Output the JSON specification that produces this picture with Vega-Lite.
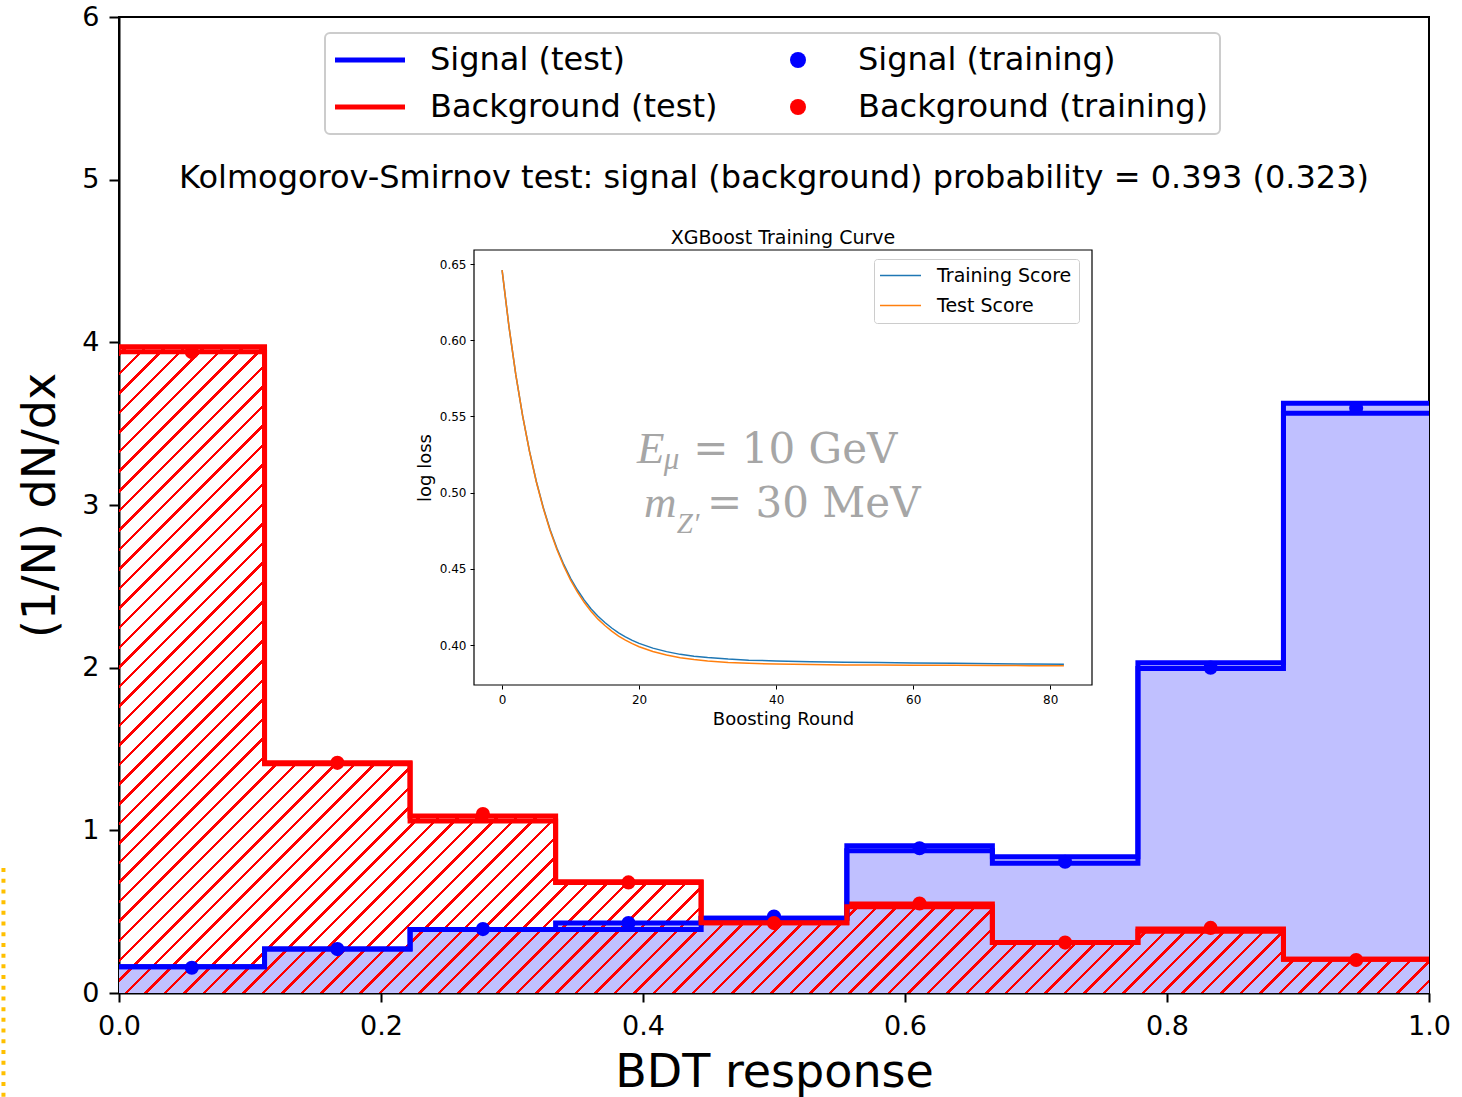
{
"$schema": "https://vega.github.io/schema/vega-lite/v6.json",
"width": 1310, "height": 976,
"autosize": "none",
"padding": {"left": 119, "top": 17, "right": 33, "bottom": 104},
"background": "white",
"config": {
  "font": "DejaVu Sans",
  "view": {"stroke": "black", "strokeWidth": 2},
  "axis": {"grid": false, "labelColor": "black", "titleColor": "black", "domainColor": "black", "tickColor": "black", "titleFontWeight": "normal", "labelFont": "DejaVu Sans", "titleFont": "DejaVu Sans", "labelFlush": false}
},
"datasets": {
  "hist": [
    {"edge": 0, "cls": "S", "leg": "Signal (test)", "fill": 0.162, "step": 0.162},
    {"edge": 0.1111, "cls": "S", "leg": "Signal (test)", "fill": 0.27, "step": 0.27},
    {"edge": 0.2222, "cls": "S", "leg": "Signal (test)", "fill": 0.39, "step": 0.39},
    {"edge": 0.3333, "cls": "S", "leg": "Signal (test)", "fill": 0.43, "step": 0.39},
    {"edge": 0.4444, "cls": "S", "leg": "Signal (test)", "fill": 0.46, "step": 0.46},
    {"edge": 0.5556, "cls": "S", "leg": "Signal (test)", "fill": 0.905, "step": 0.875},
    {"edge": 0.6667, "cls": "S", "leg": "Signal (test)", "fill": 0.838, "step": 0.797},
    {"edge": 0.7778, "cls": "S", "leg": "Signal (test)", "fill": 2.03, "step": 1.995},
    {"edge": 0.8889, "cls": "S", "leg": "Signal (test)", "fill": 3.625, "step": 3.564},
    {"edge": 1, "cls": "S", "leg": "Signal (test)", "fill": 3.625, "step": 3.564},
    {"edge": 0, "cls": "B", "leg": "Background (test)", "fill": 3.973, "step": 3.942},
    {"edge": 0.1111, "cls": "B", "leg": "Background (test)", "fill": 1.415, "step": 1.41},
    {"edge": 0.2222, "cls": "B", "leg": "Background (test)", "fill": 1.088, "step": 1.057},
    {"edge": 0.3333, "cls": "B", "leg": "Background (test)", "fill": 0.684, "step": 0.68},
    {"edge": 0.4444, "cls": "B", "leg": "Background (test)", "fill": 0.432, "step": 0.432},
    {"edge": 0.5556, "cls": "B", "leg": "Background (test)", "fill": 0.547, "step": 0.53},
    {"edge": 0.6667, "cls": "B", "leg": "Background (test)", "fill": 0.31, "step": 0.31},
    {"edge": 0.7778, "cls": "B", "leg": "Background (test)", "fill": 0.393, "step": 0.38},
    {"edge": 0.8889, "cls": "B", "leg": "Background (test)", "fill": 0.207, "step": 0.207},
    {"edge": 1, "cls": "B", "leg": "Background (test)", "fill": 0.207, "step": 0.207}
  ],
  "pts": [
    {"c": 0.0556, "leg": "Signal (training)", "v": 0.155},
    {"c": 0.1667, "leg": "Signal (training)", "v": 0.27},
    {"c": 0.2778, "leg": "Signal (training)", "v": 0.393},
    {"c": 0.3889, "leg": "Signal (training)", "v": 0.43},
    {"c": 0.5, "leg": "Signal (training)", "v": 0.47},
    {"c": 0.6111, "leg": "Signal (training)", "v": 0.89},
    {"c": 0.7222, "leg": "Signal (training)", "v": 0.807},
    {"c": 0.8333, "leg": "Signal (training)", "v": 2.0},
    {"c": 0.9444, "leg": "Signal (training)", "v": 3.596},
    {"c": 0.0556, "leg": "Background (training)", "v": 3.94},
    {"c": 0.1667, "leg": "Background (training)", "v": 1.415},
    {"c": 0.2778, "leg": "Background (training)", "v": 1.1},
    {"c": 0.3889, "leg": "Background (training)", "v": 0.68},
    {"c": 0.5, "leg": "Background (training)", "v": 0.43},
    {"c": 0.6111, "leg": "Background (training)", "v": 0.55},
    {"c": 0.7222, "leg": "Background (training)", "v": 0.31},
    {"c": 0.8333, "leg": "Background (training)", "v": 0.4},
    {"c": 0.9444, "leg": "Background (training)", "v": 0.203}
  ],
  "curve": [
    {"r": 0, "s": 0.646, "set": "Training Score"},
    {"r": 1, "s": 0.6091, "set": "Training Score"},
    {"r": 2, "s": 0.5774, "set": "Training Score"},
    {"r": 3, "s": 0.5504, "set": "Training Score"},
    {"r": 4, "s": 0.5272, "set": "Training Score"},
    {"r": 5, "s": 0.5073, "set": "Training Score"},
    {"r": 6, "s": 0.4904, "set": "Training Score"},
    {"r": 7, "s": 0.4758, "set": "Training Score"},
    {"r": 8, "s": 0.4635, "set": "Training Score"},
    {"r": 9, "s": 0.4529, "set": "Training Score"},
    {"r": 10, "s": 0.4438, "set": "Training Score"},
    {"r": 11, "s": 0.4361, "set": "Training Score"},
    {"r": 12, "s": 0.4295, "set": "Training Score"},
    {"r": 13, "s": 0.4237, "set": "Training Score"},
    {"r": 14, "s": 0.4189, "set": "Training Score"},
    {"r": 15, "s": 0.4148, "set": "Training Score"},
    {"r": 16, "s": 0.4112, "set": "Training Score"},
    {"r": 17, "s": 0.408, "set": "Training Score"},
    {"r": 18, "s": 0.4054, "set": "Training Score"},
    {"r": 19, "s": 0.4031, "set": "Training Score"},
    {"r": 20, "s": 0.4011, "set": "Training Score"},
    {"r": 22, "s": 0.398, "set": "Training Score"},
    {"r": 24, "s": 0.3957, "set": "Training Score"},
    {"r": 26, "s": 0.3939, "set": "Training Score"},
    {"r": 28, "s": 0.3927, "set": "Training Score"},
    {"r": 30, "s": 0.3918, "set": "Training Score"},
    {"r": 33, "s": 0.3908, "set": "Training Score"},
    {"r": 36, "s": 0.3901, "set": "Training Score"},
    {"r": 40, "s": 0.3896, "set": "Training Score"},
    {"r": 45, "s": 0.3891, "set": "Training Score"},
    {"r": 50, "s": 0.3888, "set": "Training Score"},
    {"r": 55, "s": 0.3885, "set": "Training Score"},
    {"r": 60, "s": 0.3883, "set": "Training Score"},
    {"r": 66, "s": 0.388, "set": "Training Score"},
    {"r": 72, "s": 0.3877, "set": "Training Score"},
    {"r": 77, "s": 0.3875, "set": "Training Score"},
    {"r": 82, "s": 0.3874, "set": "Training Score"},
    {"r": 0, "s": 0.646, "set": "Test Score"},
    {"r": 1, "s": 0.6091, "set": "Test Score"},
    {"r": 2, "s": 0.5774, "set": "Test Score"},
    {"r": 3, "s": 0.5503, "set": "Test Score"},
    {"r": 4, "s": 0.527, "set": "Test Score"},
    {"r": 5, "s": 0.507, "set": "Test Score"},
    {"r": 6, "s": 0.4899, "set": "Test Score"},
    {"r": 7, "s": 0.4752, "set": "Test Score"},
    {"r": 8, "s": 0.4627, "set": "Test Score"},
    {"r": 9, "s": 0.4519, "set": "Test Score"},
    {"r": 10, "s": 0.4426, "set": "Test Score"},
    {"r": 11, "s": 0.4347, "set": "Test Score"},
    {"r": 12, "s": 0.4279, "set": "Test Score"},
    {"r": 13, "s": 0.422, "set": "Test Score"},
    {"r": 14, "s": 0.417, "set": "Test Score"},
    {"r": 15, "s": 0.4128, "set": "Test Score"},
    {"r": 16, "s": 0.4091, "set": "Test Score"},
    {"r": 17, "s": 0.4059, "set": "Test Score"},
    {"r": 18, "s": 0.4032, "set": "Test Score"},
    {"r": 19, "s": 0.4009, "set": "Test Score"},
    {"r": 20, "s": 0.3989, "set": "Test Score"},
    {"r": 22, "s": 0.3958, "set": "Test Score"},
    {"r": 24, "s": 0.3935, "set": "Test Score"},
    {"r": 26, "s": 0.3917, "set": "Test Score"},
    {"r": 28, "s": 0.3905, "set": "Test Score"},
    {"r": 30, "s": 0.3896, "set": "Test Score"},
    {"r": 33, "s": 0.3886, "set": "Test Score"},
    {"r": 36, "s": 0.388, "set": "Test Score"},
    {"r": 40, "s": 0.3875, "set": "Test Score"},
    {"r": 45, "s": 0.3872, "set": "Test Score"},
    {"r": 50, "s": 0.387, "set": "Test Score"},
    {"r": 55, "s": 0.3869, "set": "Test Score"},
    {"r": 60, "s": 0.3868, "set": "Test Score"},
    {"r": 66, "s": 0.3867, "set": "Test Score"},
    {"r": 72, "s": 0.3866, "set": "Test Score"},
    {"r": 77, "s": 0.3865, "set": "Test Score"},
    {"r": 82, "s": 0.3865, "set": "Test Score"}
  ]
},
"layer": [
  {
    "layer": [
      {
        "data": {"name": "hist"},
        "transform": [{"filter": "datum.cls == 'S'"}],
        "mark": {"type": "area", "interpolate": "step-after", "color": "#c0c0ff"},
        "encoding": {
          "x": {"field": "edge", "type": "quantitative", "scale": {"domain": [0, 1], "nice": false, "zero": false},
                "axis": {"orient": "bottom", "values": [0, 0.2, 0.4, 0.6, 0.8, 1], "format": ".1f", "labelFontSize": 27, "tickSize": 9, "tickWidth": 2, "domainWidth": 2, "labelPadding": 11, "labelFlush": false, "title": "BDT response", "titleFontSize": 46, "titlePadding": 11}},
          "y": {"field": "fill", "type": "quantitative", "scale": {"domain": [0, 6], "nice": false, "zero": true},
                "axis": {"orient": "left", "values": [0, 1, 2, 3, 4, 5, 6], "format": "d", "labelFontSize": 27, "tickSize": 10, "tickWidth": 2, "domainWidth": 2, "labelPadding": 10, "labelFlush": false, "title": "(1/N) dN/dx", "titleFontSize": 46, "titlePadding": 17}}
        }
      },
      {
        "data": {"name": "hist"},
        "transform": [{"filter": "datum.cls == 'B'"}],
        "mark": {"type": "area", "interpolate": "step-after",
          "color": {"gradient": "linear", "x1": 0, "y1": 0, "x2": 1.201, "y2": 0.5925, "stops": [
{"offset":0.003,"color":"transparent"},{"offset":0.003,"color":"red"},{"offset":0.0048,"color":"red"},{"offset":0.0048,"color":"transparent"},
{"offset":0.013,"color":"transparent"},{"offset":0.013,"color":"red"},{"offset":0.0148,"color":"red"},{"offset":0.0148,"color":"transparent"},
{"offset":0.023,"color":"transparent"},{"offset":0.023,"color":"red"},{"offset":0.0248,"color":"red"},{"offset":0.0248,"color":"transparent"},
{"offset":0.033,"color":"transparent"},{"offset":0.033,"color":"red"},{"offset":0.0348,"color":"red"},{"offset":0.0348,"color":"transparent"},
{"offset":0.043,"color":"transparent"},{"offset":0.043,"color":"red"},{"offset":0.0448,"color":"red"},{"offset":0.0448,"color":"transparent"},
{"offset":0.053,"color":"transparent"},{"offset":0.053,"color":"red"},{"offset":0.0548,"color":"red"},{"offset":0.0548,"color":"transparent"},
{"offset":0.063,"color":"transparent"},{"offset":0.063,"color":"red"},{"offset":0.0648,"color":"red"},{"offset":0.0648,"color":"transparent"},
{"offset":0.073,"color":"transparent"},{"offset":0.073,"color":"red"},{"offset":0.0748,"color":"red"},{"offset":0.0748,"color":"transparent"},
{"offset":0.083,"color":"transparent"},{"offset":0.083,"color":"red"},{"offset":0.0848,"color":"red"},{"offset":0.0848,"color":"transparent"},
{"offset":0.093,"color":"transparent"},{"offset":0.093,"color":"red"},{"offset":0.0948,"color":"red"},{"offset":0.0948,"color":"transparent"},
{"offset":0.103,"color":"transparent"},{"offset":0.103,"color":"red"},{"offset":0.1048,"color":"red"},{"offset":0.1048,"color":"transparent"},
{"offset":0.113,"color":"transparent"},{"offset":0.113,"color":"red"},{"offset":0.1148,"color":"red"},{"offset":0.1148,"color":"transparent"},
{"offset":0.123,"color":"transparent"},{"offset":0.123,"color":"red"},{"offset":0.1248,"color":"red"},{"offset":0.1248,"color":"transparent"},
{"offset":0.133,"color":"transparent"},{"offset":0.133,"color":"red"},{"offset":0.1348,"color":"red"},{"offset":0.1348,"color":"transparent"},
{"offset":0.143,"color":"transparent"},{"offset":0.143,"color":"red"},{"offset":0.1448,"color":"red"},{"offset":0.1448,"color":"transparent"},
{"offset":0.153,"color":"transparent"},{"offset":0.153,"color":"red"},{"offset":0.1548,"color":"red"},{"offset":0.1548,"color":"transparent"},
{"offset":0.163,"color":"transparent"},{"offset":0.163,"color":"red"},{"offset":0.1648,"color":"red"},{"offset":0.1648,"color":"transparent"},
{"offset":0.173,"color":"transparent"},{"offset":0.173,"color":"red"},{"offset":0.1748,"color":"red"},{"offset":0.1748,"color":"transparent"},
{"offset":0.183,"color":"transparent"},{"offset":0.183,"color":"red"},{"offset":0.1848,"color":"red"},{"offset":0.1848,"color":"transparent"},
{"offset":0.193,"color":"transparent"},{"offset":0.193,"color":"red"},{"offset":0.1948,"color":"red"},{"offset":0.1948,"color":"transparent"},
{"offset":0.203,"color":"transparent"},{"offset":0.203,"color":"red"},{"offset":0.2048,"color":"red"},{"offset":0.2048,"color":"transparent"},
{"offset":0.213,"color":"transparent"},{"offset":0.213,"color":"red"},{"offset":0.2148,"color":"red"},{"offset":0.2148,"color":"transparent"},
{"offset":0.223,"color":"transparent"},{"offset":0.223,"color":"red"},{"offset":0.2248,"color":"red"},{"offset":0.2248,"color":"transparent"},
{"offset":0.233,"color":"transparent"},{"offset":0.233,"color":"red"},{"offset":0.2348,"color":"red"},{"offset":0.2348,"color":"transparent"},
{"offset":0.243,"color":"transparent"},{"offset":0.243,"color":"red"},{"offset":0.2448,"color":"red"},{"offset":0.2448,"color":"transparent"},
{"offset":0.253,"color":"transparent"},{"offset":0.253,"color":"red"},{"offset":0.2548,"color":"red"},{"offset":0.2548,"color":"transparent"},
{"offset":0.263,"color":"transparent"},{"offset":0.263,"color":"red"},{"offset":0.2648,"color":"red"},{"offset":0.2648,"color":"transparent"},
{"offset":0.273,"color":"transparent"},{"offset":0.273,"color":"red"},{"offset":0.2748,"color":"red"},{"offset":0.2748,"color":"transparent"},
{"offset":0.283,"color":"transparent"},{"offset":0.283,"color":"red"},{"offset":0.2848,"color":"red"},{"offset":0.2848,"color":"transparent"},
{"offset":0.293,"color":"transparent"},{"offset":0.293,"color":"red"},{"offset":0.2948,"color":"red"},{"offset":0.2948,"color":"transparent"},
{"offset":0.303,"color":"transparent"},{"offset":0.303,"color":"red"},{"offset":0.3048,"color":"red"},{"offset":0.3048,"color":"transparent"},
{"offset":0.313,"color":"transparent"},{"offset":0.313,"color":"red"},{"offset":0.3148,"color":"red"},{"offset":0.3148,"color":"transparent"},
{"offset":0.323,"color":"transparent"},{"offset":0.323,"color":"red"},{"offset":0.3248,"color":"red"},{"offset":0.3248,"color":"transparent"},
{"offset":0.333,"color":"transparent"},{"offset":0.333,"color":"red"},{"offset":0.3348,"color":"red"},{"offset":0.3348,"color":"transparent"},
{"offset":0.343,"color":"transparent"},{"offset":0.343,"color":"red"},{"offset":0.3448,"color":"red"},{"offset":0.3448,"color":"transparent"},
{"offset":0.353,"color":"transparent"},{"offset":0.353,"color":"red"},{"offset":0.3548,"color":"red"},{"offset":0.3548,"color":"transparent"},
{"offset":0.363,"color":"transparent"},{"offset":0.363,"color":"red"},{"offset":0.3648,"color":"red"},{"offset":0.3648,"color":"transparent"},
{"offset":0.373,"color":"transparent"},{"offset":0.373,"color":"red"},{"offset":0.3748,"color":"red"},{"offset":0.3748,"color":"transparent"},
{"offset":0.383,"color":"transparent"},{"offset":0.383,"color":"red"},{"offset":0.3848,"color":"red"},{"offset":0.3848,"color":"transparent"},
{"offset":0.393,"color":"transparent"},{"offset":0.393,"color":"red"},{"offset":0.3948,"color":"red"},{"offset":0.3948,"color":"transparent"},
{"offset":0.403,"color":"transparent"},{"offset":0.403,"color":"red"},{"offset":0.4048,"color":"red"},{"offset":0.4048,"color":"transparent"},
{"offset":0.413,"color":"transparent"},{"offset":0.413,"color":"red"},{"offset":0.4148,"color":"red"},{"offset":0.4148,"color":"transparent"},
{"offset":0.423,"color":"transparent"},{"offset":0.423,"color":"red"},{"offset":0.4248,"color":"red"},{"offset":0.4248,"color":"transparent"},
{"offset":0.433,"color":"transparent"},{"offset":0.433,"color":"red"},{"offset":0.4348,"color":"red"},{"offset":0.4348,"color":"transparent"},
{"offset":0.443,"color":"transparent"},{"offset":0.443,"color":"red"},{"offset":0.4448,"color":"red"},{"offset":0.4448,"color":"transparent"},
{"offset":0.453,"color":"transparent"},{"offset":0.453,"color":"red"},{"offset":0.4548,"color":"red"},{"offset":0.4548,"color":"transparent"},
{"offset":0.463,"color":"transparent"},{"offset":0.463,"color":"red"},{"offset":0.4648,"color":"red"},{"offset":0.4648,"color":"transparent"},
{"offset":0.473,"color":"transparent"},{"offset":0.473,"color":"red"},{"offset":0.4748,"color":"red"},{"offset":0.4748,"color":"transparent"},
{"offset":0.483,"color":"transparent"},{"offset":0.483,"color":"red"},{"offset":0.4848,"color":"red"},{"offset":0.4848,"color":"transparent"},
{"offset":0.493,"color":"transparent"},{"offset":0.493,"color":"red"},{"offset":0.4948,"color":"red"},{"offset":0.4948,"color":"transparent"},
{"offset":0.503,"color":"transparent"},{"offset":0.503,"color":"red"},{"offset":0.5048,"color":"red"},{"offset":0.5048,"color":"transparent"},
{"offset":0.513,"color":"transparent"},{"offset":0.513,"color":"red"},{"offset":0.5148,"color":"red"},{"offset":0.5148,"color":"transparent"},
{"offset":0.523,"color":"transparent"},{"offset":0.523,"color":"red"},{"offset":0.5248,"color":"red"},{"offset":0.5248,"color":"transparent"},
{"offset":0.533,"color":"transparent"},{"offset":0.533,"color":"red"},{"offset":0.5348,"color":"red"},{"offset":0.5348,"color":"transparent"},
{"offset":0.543,"color":"transparent"},{"offset":0.543,"color":"red"},{"offset":0.5448,"color":"red"},{"offset":0.5448,"color":"transparent"},
{"offset":0.553,"color":"transparent"},{"offset":0.553,"color":"red"},{"offset":0.5548,"color":"red"},{"offset":0.5548,"color":"transparent"},
{"offset":0.563,"color":"transparent"},{"offset":0.563,"color":"red"},{"offset":0.5648,"color":"red"},{"offset":0.5648,"color":"transparent"},
{"offset":0.573,"color":"transparent"},{"offset":0.573,"color":"red"},{"offset":0.5748,"color":"red"},{"offset":0.5748,"color":"transparent"},
{"offset":0.583,"color":"transparent"},{"offset":0.583,"color":"red"},{"offset":0.5848,"color":"red"},{"offset":0.5848,"color":"transparent"},
{"offset":0.593,"color":"transparent"},{"offset":0.593,"color":"red"},{"offset":0.5948,"color":"red"},{"offset":0.5948,"color":"transparent"},
{"offset":0.603,"color":"transparent"},{"offset":0.603,"color":"red"},{"offset":0.6048,"color":"red"},{"offset":0.6048,"color":"transparent"},
{"offset":0.613,"color":"transparent"},{"offset":0.613,"color":"red"},{"offset":0.6148,"color":"red"},{"offset":0.6148,"color":"transparent"},
{"offset":0.623,"color":"transparent"},{"offset":0.623,"color":"red"},{"offset":0.6248,"color":"red"},{"offset":0.6248,"color":"transparent"},
{"offset":0.633,"color":"transparent"},{"offset":0.633,"color":"red"},{"offset":0.6348,"color":"red"},{"offset":0.6348,"color":"transparent"},
{"offset":0.643,"color":"transparent"},{"offset":0.643,"color":"red"},{"offset":0.6448,"color":"red"},{"offset":0.6448,"color":"transparent"},
{"offset":0.653,"color":"transparent"},{"offset":0.653,"color":"red"},{"offset":0.6548,"color":"red"},{"offset":0.6548,"color":"transparent"},
{"offset":0.663,"color":"transparent"},{"offset":0.663,"color":"red"},{"offset":0.6648,"color":"red"},{"offset":0.6648,"color":"transparent"},
{"offset":0.673,"color":"transparent"},{"offset":0.673,"color":"red"},{"offset":0.6748,"color":"red"},{"offset":0.6748,"color":"transparent"},
{"offset":0.683,"color":"transparent"},{"offset":0.683,"color":"red"},{"offset":0.6848,"color":"red"},{"offset":0.6848,"color":"transparent"},
{"offset":0.693,"color":"transparent"},{"offset":0.693,"color":"red"},{"offset":0.6948,"color":"red"},{"offset":0.6948,"color":"transparent"},
{"offset":0.703,"color":"transparent"},{"offset":0.703,"color":"red"},{"offset":0.7048,"color":"red"},{"offset":0.7048,"color":"transparent"},
{"offset":0.713,"color":"transparent"},{"offset":0.713,"color":"red"},{"offset":0.7148,"color":"red"},{"offset":0.7148,"color":"transparent"},
{"offset":0.723,"color":"transparent"},{"offset":0.723,"color":"red"},{"offset":0.7248,"color":"red"},{"offset":0.7248,"color":"transparent"},
{"offset":0.733,"color":"transparent"},{"offset":0.733,"color":"red"},{"offset":0.7348,"color":"red"},{"offset":0.7348,"color":"transparent"},
{"offset":0.743,"color":"transparent"},{"offset":0.743,"color":"red"},{"offset":0.7448,"color":"red"},{"offset":0.7448,"color":"transparent"},
{"offset":0.753,"color":"transparent"},{"offset":0.753,"color":"red"},{"offset":0.7548,"color":"red"},{"offset":0.7548,"color":"transparent"},
{"offset":0.763,"color":"transparent"},{"offset":0.763,"color":"red"},{"offset":0.7648,"color":"red"},{"offset":0.7648,"color":"transparent"},
{"offset":0.773,"color":"transparent"},{"offset":0.773,"color":"red"},{"offset":0.7748,"color":"red"},{"offset":0.7748,"color":"transparent"},
{"offset":0.783,"color":"transparent"},{"offset":0.783,"color":"red"},{"offset":0.7848,"color":"red"},{"offset":0.7848,"color":"transparent"},
{"offset":0.793,"color":"transparent"},{"offset":0.793,"color":"red"},{"offset":0.7948,"color":"red"},{"offset":0.7948,"color":"transparent"},
{"offset":0.803,"color":"transparent"},{"offset":0.803,"color":"red"},{"offset":0.8048,"color":"red"},{"offset":0.8048,"color":"transparent"},
{"offset":0.813,"color":"transparent"},{"offset":0.813,"color":"red"},{"offset":0.8148,"color":"red"},{"offset":0.8148,"color":"transparent"},
{"offset":0.823,"color":"transparent"},{"offset":0.823,"color":"red"},{"offset":0.8248,"color":"red"},{"offset":0.8248,"color":"transparent"},
{"offset":0.833,"color":"transparent"},{"offset":0.833,"color":"red"},{"offset":0.8348,"color":"red"},{"offset":0.8348,"color":"transparent"},
{"offset":0.843,"color":"transparent"},{"offset":0.843,"color":"red"},{"offset":0.8448,"color":"red"},{"offset":0.8448,"color":"transparent"},
{"offset":0.853,"color":"transparent"},{"offset":0.853,"color":"red"},{"offset":0.8548,"color":"red"},{"offset":0.8548,"color":"transparent"},
{"offset":0.863,"color":"transparent"},{"offset":0.863,"color":"red"},{"offset":0.8648,"color":"red"},{"offset":0.8648,"color":"transparent"},
{"offset":0.873,"color":"transparent"},{"offset":0.873,"color":"red"},{"offset":0.8748,"color":"red"},{"offset":0.8748,"color":"transparent"},
{"offset":0.883,"color":"transparent"},{"offset":0.883,"color":"red"},{"offset":0.8848,"color":"red"},{"offset":0.8848,"color":"transparent"},
{"offset":0.893,"color":"transparent"},{"offset":0.893,"color":"red"},{"offset":0.8948,"color":"red"},{"offset":0.8948,"color":"transparent"},
{"offset":0.903,"color":"transparent"},{"offset":0.903,"color":"red"},{"offset":0.9048,"color":"red"},{"offset":0.9048,"color":"transparent"},
{"offset":0.913,"color":"transparent"},{"offset":0.913,"color":"red"},{"offset":0.9148,"color":"red"},{"offset":0.9148,"color":"transparent"},
{"offset":0.923,"color":"transparent"},{"offset":0.923,"color":"red"},{"offset":0.9248,"color":"red"},{"offset":0.9248,"color":"transparent"},
{"offset":0.933,"color":"transparent"},{"offset":0.933,"color":"red"},{"offset":0.9348,"color":"red"},{"offset":0.9348,"color":"transparent"},
{"offset":0.943,"color":"transparent"},{"offset":0.943,"color":"red"},{"offset":0.9448,"color":"red"},{"offset":0.9448,"color":"transparent"},
{"offset":0.953,"color":"transparent"},{"offset":0.953,"color":"red"},{"offset":0.9548,"color":"red"},{"offset":0.9548,"color":"transparent"},
{"offset":0.963,"color":"transparent"},{"offset":0.963,"color":"red"},{"offset":0.9648,"color":"red"},{"offset":0.9648,"color":"transparent"},
{"offset":0.973,"color":"transparent"},{"offset":0.973,"color":"red"},{"offset":0.9748,"color":"red"},{"offset":0.9748,"color":"transparent"},
{"offset":0.983,"color":"transparent"},{"offset":0.983,"color":"red"},{"offset":0.9848,"color":"red"},{"offset":0.9848,"color":"transparent"},
{"offset":0.993,"color":"transparent"},{"offset":0.993,"color":"red"},{"offset":0.9948,"color":"red"},{"offset":0.9948,"color":"transparent"}
          ]}},
        "encoding": {
          "x": {"field": "edge", "type": "quantitative"},
          "y": {"field": "fill", "type": "quantitative"}
        }
      },
      {
        "data": {"name": "hist"},
        "mark": {"type": "line", "interpolate": "step-after", "strokeWidth": 5},
        "encoding": {
          "x": {"field": "edge", "type": "quantitative"},
          "y": {"field": "fill", "type": "quantitative"},
          "color": {"field": "leg", "type": "nominal",
            "scale": {"domain": ["Signal (test)", "Background (test)", "Signal (training)", "Background (training)"], "range": ["blue", "red", "blue", "red"]},
            "legend": {"orient": "none", "legendX": 206, "legendY": 16, "direction": "vertical", "columns": 2, "title": null, "labelFontSize": 32, "labelFont": "DejaVu Sans", "labelColor": "black", "labelLimit": 800, "labelOffset": 44, "symbolOffset": 18, "columnPadding": 46, "rowPadding": 15, "padding": 11, "fillColor": "white", "strokeColor": "#cccccc", "cornerRadius": 5, "symbolSize": 256,
              "encode": {
                "symbols": {"update": {
                  "shape": {"signal": "datum.index >= 2 ? 'circle' : 'M-4.375,0H4.375'"},
                  "fill": {"scale": "color", "field": "value"},
                  "stroke": {"scale": "color", "field": "value"},
                  "strokeWidth": {"signal": "(datum.index >= 2 ? 0 : 5)"},
                  "size": {"value": 256},
                  "opacity": {"value": 1}
                }},
                "legend": {"update": {"strokeWidth": {"value": 2}}}
              }}
          }
        }
      },
      {
        "data": {"name": "hist"},
        "mark": {"type": "line", "interpolate": "step-after", "strokeWidth": 5},
        "encoding": {
          "x": {"field": "edge", "type": "quantitative"},
          "y": {"field": "step", "type": "quantitative"},
          "color": {"field": "leg", "type": "nominal"}
        }
      },
      {
        "data": {"name": "pts"},
        "mark": {"type": "point", "filled": true, "size": 200, "opacity": 1},
        "encoding": {
          "x": {"field": "c", "type": "quantitative"},
          "y": {"field": "v", "type": "quantitative"},
          "color": {"field": "leg", "type": "nominal"}
        }
      },
      {
        "data": {"values": [{}]},
        "mark": {"type": "text", "fontSize": 32, "align": "center", "baseline": "alphabetic", "color": "black", "font": "DejaVu Sans"},
        "encoding": {
          "x": {"datum": 0.5},
          "y": {"datum": 4.95},
          "text": {"value": "Kolmogorov-Smirnov test: signal (background) probability = 0.393 (0.323)"}
        }
      },
      {
        "data": {"values": [{}]},
        "mark": {"type": "rule", "color": "#ffc000", "strokeWidth": 4, "strokeDash": [4, 6.7], "clip": false},
        "encoding": {
          "x": {"datum": -0.0882},
          "y": {"datum": 0.768},
          "y2": {"datum": -0.66}
        }
      }
    ]
  },
  {
    "layer": [
      {
        "data": {"name": "curve"},
        "mark": {"type": "line", "strokeWidth": 1.5},
        "encoding": {
          "x": {"field": "r", "type": "quantitative", "scale": {"domain": [-4.1, 86.1], "range": [355, 973], "nice": false, "zero": false},
                "axis": {"orient": "bottom", "offset": -308, "values": [0, 20, 40, 60, 80], "labelFontSize": 12, "tickSize": 4, "tickWidth": 1, "labelPadding": 5, "domain": false, "title": "Boosting Round", "titleFontSize": 18, "titlePadding": 5}},
          "y": {"field": "s", "type": "quantitative", "scale": {"domain": [0.3738, 0.6592], "range": [668, 233], "nice": false, "zero": false},
                "axis": {"orient": "left", "offset": -355, "values": [0.4, 0.45, 0.5, 0.55, 0.6, 0.65], "format": ".2f", "labelFontSize": 12, "tickSize": 4, "tickWidth": 1, "labelPadding": 4, "domain": false, "title": "log loss", "titleFontSize": 18, "titlePadding": 5}},
          "stroke": {"field": "set", "type": "nominal",
            "scale": {"domain": ["Training Score", "Test Score"], "range": ["#1f77b4", "#ff7f0e"]},
            "legend": {"orient": "none", "legendX": 755, "legendY": 242, "title": null, "labelFontSize": 19, "labelColor": "black", "labelLimit": 400, "labelOffset": 27, "symbolOffset": 10, "rowPadding": 10, "padding": 7, "fillColor": "white", "strokeColor": "#cccccc", "cornerRadius": 3, "symbolType": "M-4.1,0H4.1", "symbolSize": 100, "symbolStrokeWidth": 1.5}
          }
        }
      },
      {
        "data": {"values": [{}]},
        "mark": {"type": "rect", "filled": false, "color": "black", "strokeWidth": 1.2},
        "encoding": {
          "x": {"datum": -4.1}, "x2": {"datum": 86.1},
          "y": {"datum": 0.3738}, "y2": {"datum": 0.6592}
        }
      },
      {
        "data": {"values": [{}]},
        "mark": {"type": "text", "fontSize": 19, "align": "center", "baseline": "alphabetic", "color": "black", "dy": -6},
        "encoding": {"x": {"datum": 41}, "y": {"datum": 0.6592}, "text": {"value": "XGBoost Training Curve"}}
      },
      {
        "data": {"values": [{}]},
        "mark": {"type": "text", "font": "Liberation Serif", "fontStyle": "italic", "fontSize": 45, "align": "left", "baseline": "alphabetic", "color": "#a6a6a6"},
        "encoding": {"x": {"datum": 19.7}, "y": {"datum": 0.5194}, "text": {"value": "E"}}
      },
      {
        "data": {"values": [{}]},
        "mark": {"type": "text", "font": "Liberation Serif", "fontStyle": "italic", "fontSize": 31, "align": "left", "baseline": "alphabetic", "color": "#a6a6a6"},
        "encoding": {"x": {"datum": 23.6}, "y": {"datum": 0.5155}, "text": {"value": "μ"}}
      },
      {
        "data": {"values": [{}]},
        "mark": {"type": "text", "font": "DejaVu Serif", "fontSize": 42, "align": "left", "baseline": "alphabetic", "color": "#a6a6a6"},
        "encoding": {"x": {"datum": 27.9}, "y": {"datum": 0.5194}, "text": {"value": "= 10 GeV"}}
      },
      {
        "data": {"values": [{}]},
        "mark": {"type": "text", "font": "Liberation Serif", "fontStyle": "italic", "fontSize": 45, "align": "left", "baseline": "alphabetic", "color": "#a6a6a6"},
        "encoding": {"x": {"datum": 20.7}, "y": {"datum": 0.484}, "text": {"value": "m"}}
      },
      {
        "data": {"values": [{}]},
        "mark": {"type": "text", "font": "Liberation Serif", "fontStyle": "italic", "fontSize": 29, "align": "left", "baseline": "alphabetic", "color": "#a6a6a6"},
        "encoding": {"x": {"datum": 25.5}, "y": {"datum": 0.4735}, "text": {"value": "Z′"}}
      },
      {
        "data": {"values": [{}]},
        "mark": {"type": "text", "font": "DejaVu Serif", "fontSize": 42, "align": "left", "baseline": "alphabetic", "color": "#a6a6a6"},
        "encoding": {"x": {"datum": 29.9}, "y": {"datum": 0.484}, "text": {"value": "= 30 MeV"}}
      }
    ]
  }
],
"resolve": {"scale": {"x": "independent", "y": "independent"}, "axis": {"x": "independent", "y": "independent"}}
}
